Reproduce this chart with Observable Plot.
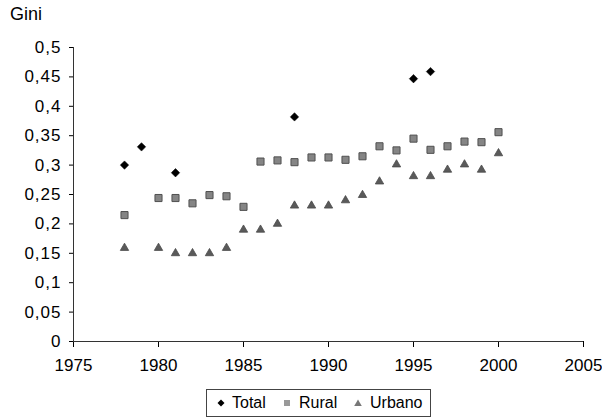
<!DOCTYPE html>
<html>
<head>
<meta charset="utf-8">
<script src="https://cdn.jsdelivr.net/npm/d3@7"></script>
<script src="https://cdn.jsdelivr.net/npm/@observablehq/plot@0.6"></script>
<style>
  body { margin: 0; background: #fff; font-family: "Liberation Sans", Arial, sans-serif; }
  #wrap { position: relative; width: 602px; height: 418px; overflow: hidden; }
  #gini { position: absolute; left: 10px; top: 5px; font-size: 18px; line-height: 18px; color: #000; }
  #chart { position: absolute; left: 0; top: 0; }
  #chart g[aria-label="y-axis tick label"] text { letter-spacing: 1px; }
  #legend { position: absolute; left: 206px; top: 389px; width: 225px; height: 28px; border: 1px solid #444; box-sizing: border-box; background: #fff; font-size: 16px; }
  #legend .it { position: absolute; top: 0; height: 26px; line-height: 26px; white-space: nowrap; }
  #legend svg { position: absolute; overflow: visible; }
</style>
</head>
<body>
<div id="wrap">
  <div id="chart"></div>
  <div id="gini">Gini</div>
  <div id="legend"></div>
</div>
<script>
// ---- data ----
const totalYears = [1978, 1979, 1981, 1988, 1995, 1996];
const totalValues = [0.300, 0.331, 0.287, 0.382, 0.447, 0.459];

const ruralYears = [1978, 1980, 1981, 1982, 1983, 1984, 1985, 1986, 1987, 1988, 1989, 1990, 1991, 1992, 1993, 1994, 1995, 1996, 1997, 1998, 1999, 2000];
const ruralValues = [0.215, 0.244, 0.244, 0.235, 0.249, 0.247, 0.229, 0.306, 0.308, 0.305, 0.313, 0.313, 0.309, 0.315, 0.332, 0.325, 0.345, 0.326, 0.332, 0.340, 0.339, 0.356];

const urbanYears = [1978, 1980, 1981, 1982, 1983, 1984, 1985, 1986, 1987, 1988, 1989, 1990, 1991, 1992, 1993, 1994, 1995, 1996, 1997, 1998, 1999, 2000];
const urbanValues = [0.159, 0.159, 0.150, 0.150, 0.150, 0.159, 0.190, 0.190, 0.200, 0.231, 0.231, 0.231, 0.240, 0.249, 0.272, 0.301, 0.281, 0.281, 0.292, 0.301, 0.292, 0.320];

const xTicks = [1975, 1980, 1985, 1990, 1995, 2000, 2005];
const yTicks = [0, 0.05, 0.1, 0.15, 0.2, 0.25, 0.3, 0.35, 0.4, 0.45, 0.5];
const seriesNames = ["Total", "Rural", "Urbano"];

// ---- tables ----
const total = totalYears.map((year, i) => ({year, value: totalValues[i]}));
const rural = ruralYears.map((year, i) => ({year, value: ruralValues[i]}));
const urban = urbanYears.map((year, i) => ({year, value: urbanValues[i]}));

const plot = Plot.plot({
  width: 602,
  height: 389,
  marginTop: 47,
  marginBottom: 48,
  marginLeft: 73,
  marginRight: 19,
  style: { fontFamily: "'Liberation Sans', Arial, sans-serif", fontSize: "17px", color: "#000", background: "transparent" },
  x: { domain: [1975, 2005], ticks: xTicks, tickFormat: d => String(d), tickSize: 6, tickPadding: 11, label: null },
  y: { domain: [0, 0.5], ticks: yTicks, tickFormat: d => String(d).replace(".", ","), tickSize: 4, tickPadding: 8, label: null },
  marks: [
    Plot.ruleY([0], { stroke: "#333" }),
    Plot.ruleX([1975], { stroke: "#333" }),
    Plot.dot(urban, { x: "year", y: "value", symbol: "triangle", r: 3.1, fill: "#5a5a5a", stroke: "#4a4a4a", strokeWidth: 0.8 }),
    Plot.dot(rural, { x: "year", y: "value", symbol: "square", r: 4.0, fill: "#858585", stroke: "#505050", strokeWidth: 1 }),
    Plot.dot(total, { x: "year", y: "value", symbol: "diamond2", r: 3.8, fill: "#000", stroke: "#000", strokeWidth: 0.5 })
  ]
});
document.getElementById("chart").appendChild(plot);

// ---- legend ----
const legend = document.getElementById("legend");
const items = [
  { name: seriesNames[0], sx: 14, tx: 25, sym: '<path d="M0,-3.5L3.5,0L0,3.5L-3.5,0Z" fill="#000"/>' },
  { name: seriesNames[1], sx: 80, tx: 92, sym: '<rect x="-3" y="-3" width="6" height="6" fill="#999"/>' },
  { name: seriesNames[2], sx: 151, tx: 163, sym: '<path d="M0,-3.5L3.8,3L-3.8,3Z" fill="#777"/>' }
];
items.forEach(it => {
  const s = document.createElement("div");
  s.className = "it";
  s.style.left = "0px";
  s.innerHTML = `<svg width="1" height="1" style="left:${it.sx}px;top:13px">${it.sym}</svg>`;
  legend.appendChild(s);
  const t = document.createElement("div");
  t.className = "it";
  t.style.left = it.tx + "px";
  t.textContent = it.name;
  legend.appendChild(t);
});
</script>
</body>
</html>
